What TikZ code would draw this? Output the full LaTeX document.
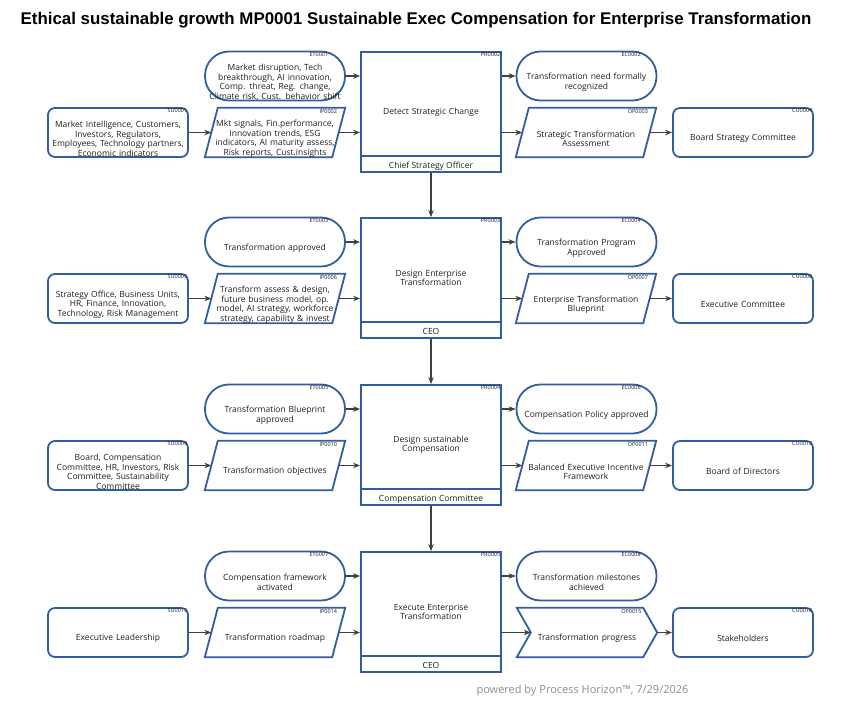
\documentclass[tikz,border=0pt]{standalone}
\usepackage{fontspec}
\setmainfont{Open Sans}
\newfontfamily\titlefont{Liberation Sans}
\usetikzlibrary{arrows.meta}

\definecolor{boxblue}{RGB}{50,94,160}
\definecolor{flowgray}{RGB}{64,64,64}
\definecolor{textgray}{RGB}{30,30,30}

\begin{document}
\begin{tikzpicture}[x=1pt, y=-1pt,
    every node/.style={font=\fontsize{8.5}{9.4}\selectfont, text=textgray},
    boxline/.style={draw=boxblue, line width=1.8pt},
    flow/.style={draw=flowgray, line width=1.1pt, -{Stealth[length=7pt, width=5.5pt]}},
    code/.style={font=\fontsize{5.5}{6}\selectfont, inner sep=1.5pt},
    txt/.style={align=center, inner sep=0pt, execute at begin node={\rule{0pt}{19pt}}},
    event/.style={txt, boxline, rounded corners=24pt, minimum width=140pt, minimum height=49pt, text width=136pt},
    party/.style={txt, boxline, rounded corners=7pt, minimum width=140pt, minimum height=49pt, text width=136pt},
    proc/.style={boxline, minimum width=140pt, minimum height=120pt, text width=120pt, align=center, inner sep=0pt},
    lane/.style={inner sep=0pt},
    io/.style={txt, minimum width=127pt, minimum height=49pt, text width=127pt,
        append after command={\pgfextra{\draw[boxline]
            ([xshift=6.5pt]\tikzlastnode.north west) -- ([xshift=6.5pt]\tikzlastnode.north east)
            -- ([xshift=-6.5pt]\tikzlastnode.south east) -- ([xshift=-6.5pt]\tikzlastnode.south west) -- cycle;}}},
    outflag/.style={txt, minimum width=112pt, minimum height=49pt, text width=112pt,
        append after command={\pgfextra{\draw[boxline]
            ([xshift=-14pt]\tikzlastnode.north west) -- (\tikzlastnode.north east)
            -- ([xshift=14pt]\tikzlastnode.east) -- (\tikzlastnode.south east)
            -- ([xshift=-14pt]\tikzlastnode.south west) -- (\tikzlastnode.west) -- cycle;}}}
]
\useasboundingbox (0,0) rectangle (860,706);

% Title
\node[font=\titlefont\bfseries\fontsize{16.9}{19}\selectfont, text=black] (title) at (416,20)
    {Ethical sustainable growth MP0001 Sustainable Exec Compensation for Enterprise Transformation};

% Row 1
\node[event, label={[code, anchor=north east, xshift=-16pt]north east:ET0001}] (et1) at (275,76)
    {Market disruption, Tech\\breakthrough, AI innovation,\\Comp. threat, Reg. change,\\Climate risk, Cust. behavior shift};
\node[party, label={[code, anchor=north east]north east:SU0001}] (su1) at (118,132.5)
    {Market Intelligence, Customers,\\Investors, Regulators,\\Employees, Technology partners,\\Economic indicators};
\node[io, label={[code, anchor=north east]north east:IP0002}] (ip2) at (275,132.5)
    {Mkt signals, Fin.performance,\\Innovation trends, ESG\\indicators, AI maturity assess,\\Risk reports, Cust.insights};
\node[proc, label={[code, anchor=north east]north east:PR0002}] (pr2) at (431,112) {Detect Strategic Change};
\draw[boxline] ([yshift=17pt]pr2.south west) -- ([yshift=17pt]pr2.south east);
\node[lane] (ln2) at ([yshift=7pt]pr2.south) {Chief Strategy Officer};
\node[event, label={[code, anchor=north east, xshift=-15pt]north east:EC0002}] (ec2) at (586.5,76)
    {Transformation need formally\\recognized};
\node[io, label={[code, anchor=north east]north east:OP0003}] (op3) at (586,132.5)
    {Strategic Transformation\\Assessment};
\node[party, label={[code, anchor=north east]north east:CU0004}] (cu4) at (743,132.5)
    {Board Strategy Committee};

\draw[flow] (su1) -- (ip2);
\draw[flow] (et1) -- (et1 -| pr2.west);
\draw[flow] (ip2) -- (ip2 -| pr2.west);
\draw[flow] (pr2.east |- ec2) -- (ec2);
\draw[flow] (pr2.east |- op3) -- (op3);
\draw[flow] (op3) -- (cu4);

% Row 2
\node[event, label={[code, anchor=north east, xshift=-16pt]north east:ET0003}] (et3) at (275,242)
    {Transformation approved};
\node[party, label={[code, anchor=north east]north east:SU0005}] (su5) at (118,298.5)
    {Strategy Office, Business Units,\\HR, Finance, Innovation,\\Technology, Risk Management};
\node[io, label={[code, anchor=north east]north east:IP0006}] (ip6) at (275,298.5)
    {Transform assess \& design,\\future business model, op.\\model, AI strategy, workforce\\strategy, capability \& invest};
\node[proc, label={[code, anchor=north east]north east:PR0003}] (pr3) at (431,278) {Design Enterprise\\Transformation};
\draw[boxline] ([yshift=17pt]pr3.south west) -- ([yshift=17pt]pr3.south east);
\node[lane] (ln3) at ([yshift=7pt]pr3.south) {CEO};
\node[event, label={[code, anchor=north east, xshift=-15pt]north east:EC0004}] (ec4) at (586.5,242)
    {Transformation Program\\Approved};
\node[io, label={[code, anchor=north east]north east:OP0007}] (op7) at (586,298.5)
    {Enterprise Transformation\\Blueprint};
\node[party, label={[code, anchor=north east]north east:CU0008}] (cu8) at (743,298.5)
    {Executive Committee};

\draw[flow] (pr2) -- (pr3);
\draw[flow] (su5) -- (ip6);
\draw[flow] (et3) -- (et3 -| pr3.west);
\draw[flow] (ip6) -- (ip6 -| pr3.west);
\draw[flow] (pr3.east |- ec4) -- (ec4);
\draw[flow] (pr3.east |- op7) -- (op7);
\draw[flow] (op7) -- (cu8);

% Row 3
\node[event, label={[code, anchor=north east, xshift=-16pt]north east:ET0005}] (et5) at (275,409)
    {Transformation Blueprint\\approved};
\node[party, label={[code, anchor=north east]north east:SU0009}] (su9) at (118,465.5)
    {Board, Compensation\\Committee, HR, Investors, Risk\\Committee, Sustainability\\Committee};
\node[io, label={[code, anchor=north east]north east:IP0010}] (ip10) at (275,465.5)
    {Transformation objectives};
\node[proc, label={[code, anchor=north east]north east:PR0004}] (pr4) at (431,445) {Design sustainable\\Compensation};
\draw[boxline] ([yshift=17pt]pr4.south west) -- ([yshift=17pt]pr4.south east);
\node[lane] (ln4) at ([yshift=7pt]pr4.south) {Compensation Committee};
\node[event, label={[code, anchor=north east, xshift=-15pt]north east:EC0006}] (ec6) at (586.5,409)
    {Compensation Policy approved};
\node[io, label={[code, anchor=north east]north east:OP0011}] (op11) at (586,465.5)
    {Balanced Executive Incentive\\Framework};
\node[party, label={[code, anchor=north east]north east:CU0012}] (cu12) at (743,465.5)
    {Board of Directors};

\draw[flow] (pr3) -- (pr4);
\draw[flow] (su9) -- (ip10);
\draw[flow] (et5) -- (et5 -| pr4.west);
\draw[flow] (ip10) -- (ip10 -| pr4.west);
\draw[flow] (pr4.east |- ec6) -- (ec6);
\draw[flow] (pr4.east |- op11) -- (op11);
\draw[flow] (op11) -- (cu12);

% Row 4
\node[event, label={[code, anchor=north east, xshift=-16pt]north east:ET0007}] (et7) at (275,576)
    {Compensation framework\\activated};
\node[party, label={[code, anchor=north east]north east:SU0013}] (su13) at (118,632.5)
    {Executive Leadership};
\node[io, label={[code, anchor=north east]north east:IP0014}] (ip14) at (275,632.5)
    {Transformation roadmap};
\node[proc, label={[code, anchor=north east]north east:PR0005}] (pr5) at (431,612) {Execute Enterprise\\Transformation};
\draw[boxline] ([yshift=17pt]pr5.south west) -- ([yshift=17pt]pr5.south east);
\node[lane] (ln5) at ([yshift=7pt]pr5.south) {CEO};
\node[event, label={[code, anchor=north east, xshift=-15pt]north east:EC0008}] (ec8) at (586.5,576)
    {Transformation milestones\\achieved};
\node[outflag, label={[code, anchor=north east]north east:OP0015}] (op15) at (587,632.5)
    {Transformation progress};
\node[party, label={[code, anchor=north east]north east:CU0016}] (cu16) at (743,632.5)
    {Stakeholders};

\draw[flow] (pr4) -- (pr5);
\draw[flow] (su13) -- (ip14);
\draw[flow] (et7) -- (et7 -| pr5.west);
\draw[flow] (ip14) -- (ip14 -| pr5.west);
\draw[flow] (pr5.east |- ec8) -- (ec8);
\draw[flow] (pr5.east |- op15) -- (op15);
\draw[flow] ([xshift=14pt]op15.east) -- (cu16);

% Footer
\node[font=\fontsize{11}{13}\selectfont, text=black!45, anchor=west] (footer) at (473,691)
    {powered by Process Horizon™, 7/29/2026};
\end{tikzpicture}
\end{document}
